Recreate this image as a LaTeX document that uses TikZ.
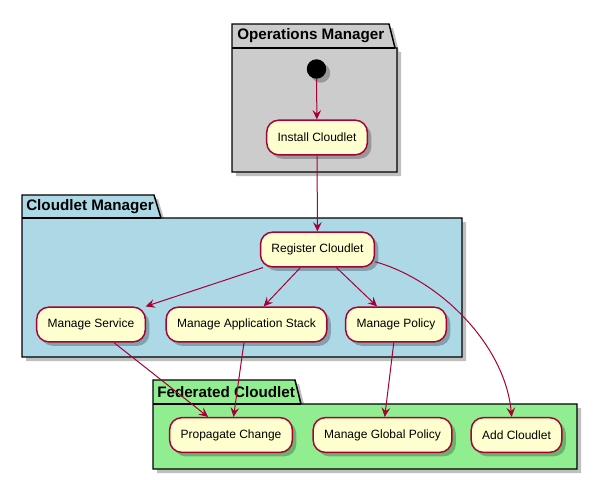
\documentclass[tikz,border=0pt]{standalone}
\usepackage{fontspec}
\setmainfont{Liberation Sans}
\usetikzlibrary{arrows.meta,shadows}
\definecolor{umlborder}{RGB}{168,0,54}
\definecolor{umlfill}{RGB}{254,254,206}
\definecolor{opsgray}{RGB}{204,204,204}
\definecolor{mgrblue}{RGB}{173,216,230}
\definecolor{fedgreen}{RGB}{144,238,144}

\begin{document}
\begin{tikzpicture}[
    x=0.75pt, y=-0.75pt,
    softshadow/.style={drop shadow={shadow xshift=3pt, shadow yshift=-3pt,
                       fill=black, opacity=0.25}},
    pkg/.style={draw=black, line width=1.1pt, softshadow},
    pkgtitle/.style={anchor=west, inner sep=0pt,
                     font=\fontsize{11.4}{13}\selectfont\bfseries},
    action/.style={draw=umlborder, fill=umlfill, line width=1.1pt,
                   rounded corners=9pt, minimum height=26pt, inner xsep=8.2pt,
                   font=\fontsize{9}{11}\selectfont, softshadow},
    flow/.style={draw=umlborder, line width=0.75pt,
                 -{Stealth[length=7pt, width=6.5pt, inset=2.6pt]}}
]
\useasboundingbox (0,0) rectangle (598,479);

\draw[pkg, fill=opsgray] (232,24) -- (389,24) -- (395,48) -- (397,48)
    -- (397,172) -- (232,172) -- cycle;
\draw[line width=1.1pt] (232,48) -- (395,48);
\node[pkgtitle] (opsname) at (237,36) {Operations Manager};

\draw[pkg, fill=mgrblue] (22,195) -- (154,195) -- (161,218) -- (462,218)
    -- (462,357) -- (22,357) -- cycle;
\draw[line width=1.1pt] (22,218) -- (161,218);
\node[pkgtitle] (mgrname) at (26,207) {Cloudlet Manager};

\draw[pkg, fill=fedgreen] (153,380) -- (295,380) -- (301,404) -- (577,404)
    -- (577,469) -- (153,469) -- cycle;
\draw[line width=1.1pt] (153,404) -- (301,404);
\node[pkgtitle] (fedname) at (157,392) {Federated Cloudlet};

\node[circle, fill=black, minimum size=14.6pt, inner sep=0pt, softshadow]
    (start) at (316.5,69) {};
\node[action] (inst) at (317,137.5) {Install Cloudlet};
\node[action] (reg) at (317.5,249.5) {Register Cloudlet};
\node[action] (ms) at (91,324.5) {Manage Service};
\node[action] (mas) at (246.5,324.5) {Manage Application Stack};
\node[action] (mp) at (396,324.5) {Manage Policy};
\node[action] (pc) at (231,435) {Propagate Change};
\node[action] (mgp) at (382.5,435) {Manage Global Policy};
\node[action] (ac) at (516.5,435) {Add Cloudlet};

\draw[flow] (start) -- (inst);
\draw[flow] (inst) -- (reg);
\draw[flow] (reg) -- (ms);
\draw[flow] (reg) -- (mas);
\draw[flow] (reg) -- (mp);
\draw[flow] (reg.-12) .. controls (440,280) and (505,345) .. (ac.105);
\draw[flow] (ms) -- (pc);
\draw[flow] (mas) -- (pc);
\draw[flow] (mp) -- (mgp);
\end{tikzpicture}
\end{document}
